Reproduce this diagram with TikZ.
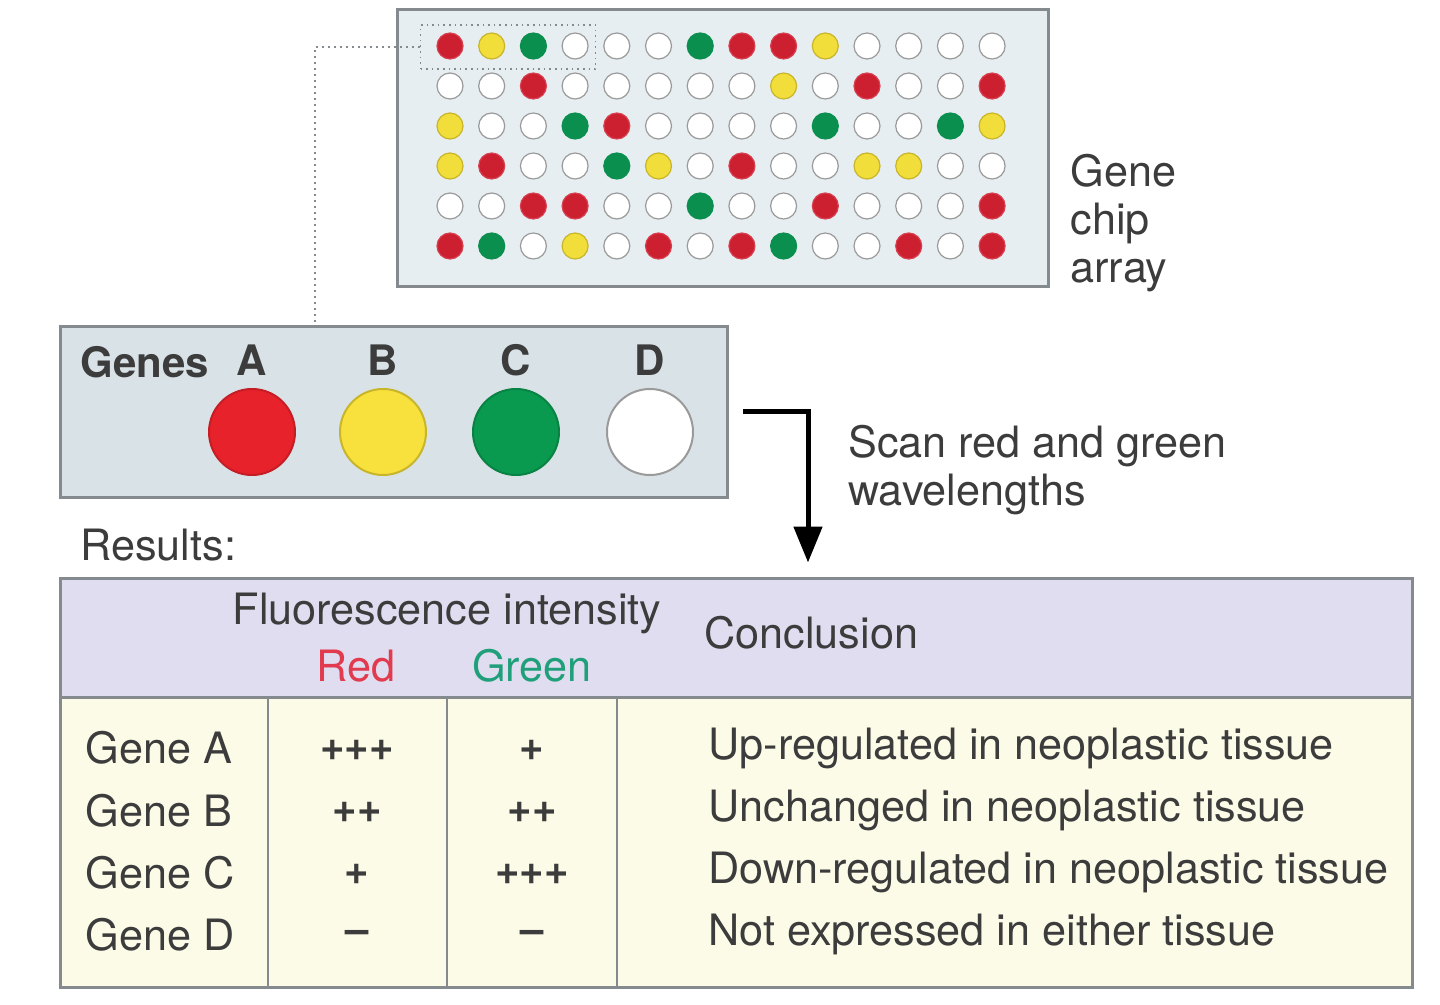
\documentclass[tikz,border=0pt]{standalone}
\usepackage{fontspec}
\setmainfont{TeX Gyre Heros}
\usepackage{xcolor}
\usepackage{tikz}
\usetikzlibrary{positioning, arrows.meta, calc}

\definecolor{inkgrey}{HTML}{3C3C3C}
\definecolor{framegrey}{HTML}{858A8E}
\definecolor{chipfill}{HTML}{E6EEF1}
\definecolor{genefill}{HTML}{D9E2E7}
\definecolor{headfill}{HTML}{DFDDEF}
\definecolor{bodyfill}{HTML}{FCFBE7}
\definecolor{dotR}{HTML}{CC1F30}
\definecolor{dotY}{HTML}{F2DE3A}
\definecolor{dotG}{HTML}{0B8F4F}
\definecolor{dotW}{HTML}{FFFFFF}
\definecolor{rimR}{HTML}{D84050}
\definecolor{rimY}{HTML}{C8B52A}
\definecolor{rimG}{HTML}{0B8F4F}
\definecolor{rimW}{HTML}{9A9A9A}
\definecolor{geneR}{HTML}{E8222B}
\definecolor{geneY}{HTML}{F8E13C}
\definecolor{geneG}{HTML}{0A9A4F}
\definecolor{redlabel}{HTML}{E23A4E}
\definecolor{greenlabel}{HTML}{20A07A}

\begin{document}
\begin{tikzpicture}[x=0.5pt, y=-0.5pt,
    every node/.style={text=inkgrey, font=\fontsize{21.6}{24}\selectfont},
    txt/.style={inner sep=0pt},
    boldtxt/.style={inner sep=0pt, font=\bfseries\fontsize{21}{24}\selectfont},
    marktxt/.style={inner sep=0pt, font=\bfseries\fontsize{21}{24}\selectfont},
    spot/.style={circle, line width=0.6pt, minimum size=13pt, inner sep=0pt},
    bigspot/.style={circle, line width=1pt, minimum size=43pt, inner sep=0pt},
    panel/.style={rectangle, draw=framegrey, line width=1.5pt, inner sep=0pt}]
    \useasboundingbox (0,0) rectangle (1440,1005);

    % Gene chip array
    \node[panel, fill=chipfill, minimum width=325.5pt, minimum height=138.5pt] (chip) at (722.5,148.5) {};
    \foreach \cols [count=\r] in {
        {R,Y,G,W,W,W,G,R,R,Y,W,W,W,W},
        {W,W,R,W,W,W,W,W,Y,W,R,W,W,R},
        {Y,W,W,G,R,W,W,W,W,G,W,W,G,Y},
        {Y,R,W,W,G,Y,W,R,W,W,Y,Y,W,W},
        {W,W,R,R,W,W,G,W,W,R,W,W,W,R},
        {R,G,W,Y,W,R,W,R,G,W,W,R,W,R}} {
        \foreach \c [count=\k] in \cols {
            \node[spot, fill=dot\c, draw=rim\c] (dot-\r-\k) at ({450+41.7*(\k-1)}, {46+40*(\r-1)}) {};
        }
    }
    \node[panel, draw=framegrey, line width=0.8pt, dotted, minimum width=87.5pt, minimum height=22pt] (zoombox) at (508,47) {};
    \node[txt, anchor=west, align=left] (chiplabel) at (1070,223) {Gene\\chip\\array};

    % Genes legend
    \node[panel, fill=genefill, minimum width=333.5pt, minimum height=85pt] (genes) at (393.5,412) {};
    \node[boldtxt, anchor=west] (genestitle) at (80,362) {Genes};
    \node[bigspot, fill=geneR, draw=geneR!85!black] (geneA) at (252,432) {};
    \node[bigspot, fill=geneY, draw=rimY] (geneB) at (383,432) {};
    \node[bigspot, fill=geneG, draw=geneG!85!black] (geneC) at (516,432) {};
    \node[bigspot, fill=white, draw=rimW] (geneD) at (650,432) {};
    \node[boldtxt, above=6pt of geneA] (letterA) {A};
    \node[boldtxt, above=6pt of geneB] (letterB) {B};
    \node[boldtxt, above=6pt of geneC] (letterC) {C};
    \node[boldtxt, above=6pt of geneD] (letterD) {D};

    % Dotted zoom line
    \coordinate (bend) at (315,47);
    \draw[framegrey, line width=1pt, dotted] (zoombox.west) -- (bend) -- (bend |- genes.north);

    % Scan arrow
    \node[txt, anchor=west, align=left] (scan) at (848,470) {Scan red and green\\wavelengths};
    \node[txt, anchor=west] (results) at (80,545) {Results:};

    % Results table
    \node[panel, fill=headfill, minimum width=676pt, minimum height=59.5pt] (head) at (736,637.5) {};
    \node[panel, fill=bodyfill, minimum width=676pt, minimum height=145pt] (body) at (736,842) {};
    \foreach \x in {268,447,617}
        \draw[framegrey, line width=1pt] (\x,697) -- (\x,987);
    \node[txt] (fluor) at (447,613) {Fluorescence intensity};
    \node[txt, text=redlabel] (redhead) at (356,666) {Red};
    \node[txt, text=greenlabel] (greenhead) at (532,666) {Green};
    \node[txt, anchor=west] (conchead) at (704,633) {Conclusion};
    \foreach \name/\red/\green/\concl [count=\i] in {
        A/+{}+{}+/+/Up-regulated in neoplastic tissue,
        B/+{}+/+{}+/Unchanged in neoplastic tissue,
        C/+/+{}+{}+/Down-regulated in neoplastic tissue,
        D/--/--/Not expressed in either tissue} {
        \node[txt, anchor=west] (gene-\i) at (85,{748+62.3*(\i-1)}) {Gene \name};
        \node[marktxt] (red-\i) at (357,{750+62.3*(\i-1)}) {\red};
        \node[marktxt] (green-\i) at (532,{750+62.3*(\i-1)}) {\green};
        \node[txt, anchor=west] (concl-\i) at (708,{748+62.3*(\i-1)}) {\concl};
    }

    % Arrow
    \coordinate (turn) at (808,412);
    \coordinate (tip) at ($(turn |- head.north)+(0,-14)$);
    \draw[line width=2.5pt, -{Triangle[length=18pt, width=14pt]}] ([xshift=7pt]genes.east) -- (turn) -- (tip);
\end{tikzpicture}
\end{document}
